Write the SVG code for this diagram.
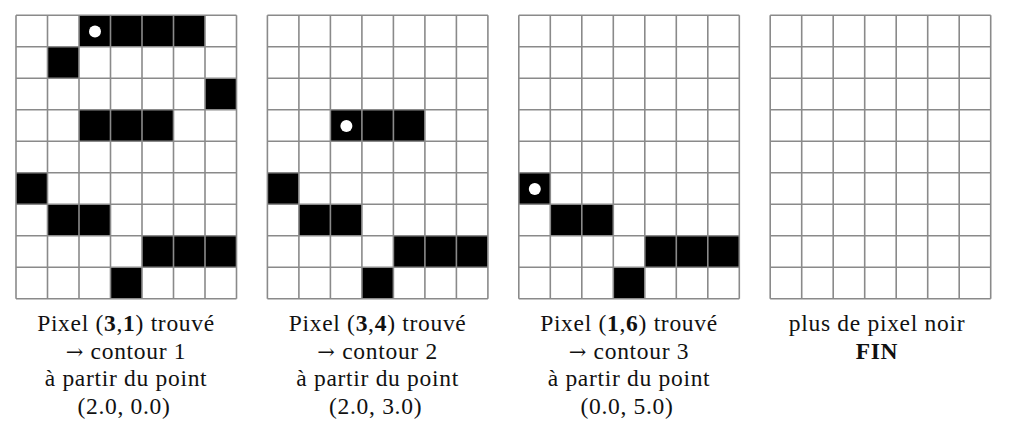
<svg xmlns="http://www.w3.org/2000/svg" xmlns:xlink="http://www.w3.org/1999/xlink" width="1010" height="438" viewBox="0 0 1010 438">
<style>
.bg{fill:#fff}
.on{fill:#000}
.gl{fill:none;stroke:#8a8a8a;stroke-width:1.6}
.dot{fill:#fff}
.lbl{font-family:"Liberation Serif","DejaVu Serif",serif;font-size:23.5px;letter-spacing:0.7px;fill:#111;text-anchor:middle}
.b{font-weight:bold}
.ar{font-family:"DejaVu Serif",serif;font-size:21px}
</style>
<defs>
<path id="lines" class="gl" d="M0 0V283.5M31.5 0V283.5M63 0V283.5M94.5 0V283.5M126 0V283.5M157.5 0V283.5M189 0V283.5M220.5 0V283.5M0 0H220.5M0 31.5H220.5M0 63H220.5M0 94.5H220.5M0 126H220.5M0 157.5H220.5M0 189H220.5M0 220.5H220.5M0 252H220.5M0 283.5H220.5"/>
<g id="lower">
<rect class="on" x="0" y="157.5" width="31.5" height="31.5"/>
<rect class="on" x="31.5" y="189" width="63" height="31.5"/>
<rect class="on" x="126" y="220.5" width="94.5" height="31.5"/>
<rect class="on" x="94.5" y="252" width="31.5" height="31.5"/>
</g>
</defs>
<rect class="bg" x="0" y="0" width="1010" height="438"/>
<g id="grid1" transform="translate(16,15.3)">
<rect class="on" x="63" y="0" width="126" height="31.5"/>
<rect class="on" x="31.5" y="31.5" width="31.5" height="31.5"/>
<rect class="on" x="189" y="63" width="31.5" height="31.5"/>
<rect class="on" x="63" y="94.5" width="94.5" height="31.5"/>
<use xlink:href="#lower" href="#lower"/>
<use xlink:href="#lines" href="#lines"/>
<circle class="dot" cx="79" cy="16.3" r="6"/>
</g>
<g id="grid2" transform="translate(267.4,15.3)">
<rect class="on" x="63" y="94.5" width="94.5" height="31.5"/>
<use xlink:href="#lower" href="#lower"/>
<use xlink:href="#lines" href="#lines"/>
<circle class="dot" cx="79" cy="110.8" r="6"/>
</g>
<g id="grid3" transform="translate(518.8,15.3)">
<use xlink:href="#lower" href="#lower"/>
<use xlink:href="#lines" href="#lines"/>
<circle class="dot" cx="16" cy="173.8" r="6"/>
</g>
<g id="grid4" transform="translate(770.2,15.3)">
<use xlink:href="#lines" href="#lines"/>
</g>
<g id="label1" class="lbl">
<text x="126" y="331">Pixel (<tspan class="b">3</tspan>,<tspan class="b">1</tspan>) trouvé</text>
<text x="126" y="358.5"><tspan class="ar">→</tspan> contour 1</text>
<text x="126" y="386">à partir du point</text>
<text x="124" y="413.5">(2.0, 0.0)</text>
</g>
<g id="label2" class="lbl">
<text x="377.6" y="331">Pixel (<tspan class="b">3</tspan>,<tspan class="b">4</tspan>) trouvé</text>
<text x="377.6" y="358.5"><tspan class="ar">→</tspan> contour 2</text>
<text x="377.6" y="386">à partir du point</text>
<text x="375.6" y="413.5">(2.0, 3.0)</text>
</g>
<g id="label3" class="lbl">
<text x="629" y="331">Pixel (<tspan class="b">1</tspan>,<tspan class="b">6</tspan>) trouvé</text>
<text x="629" y="358.5"><tspan class="ar">→</tspan> contour 3</text>
<text x="629" y="386">à partir du point</text>
<text x="627" y="413.5">(0.0, 5.0)</text>
</g>
<g id="label4" class="lbl">
<text x="877" y="331">plus de pixel noir</text>
<text x="877" y="358.5" class="b">FIN</text>
</g>
</svg>
